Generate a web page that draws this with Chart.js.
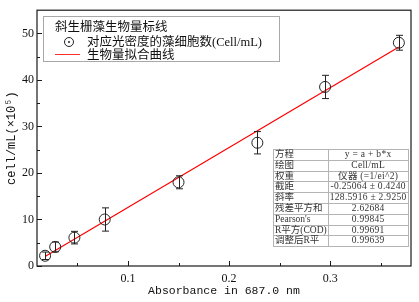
<!DOCTYPE html>
<html><head><meta charset="utf-8">
<script src="https://cdn.jsdelivr.net/npm/chart.js@4/dist/chart.umd.min.js"></script>
<style>
html,body{margin:0;padding:0;background:#fff;}
#wrap{position:relative;width:419px;height:302px;overflow:hidden;}
canvas{display:block;}
#legend{position:absolute;left:43px;top:16px;width:235px;height:44px;border:1px solid #a8a8a8;background:#fff;font-family:"Noto Sans CJK SC",sans-serif;font-size:12.5px;color:#111;}
#legend .row{position:absolute;left:0;white-space:nowrap;line-height:14px;height:14px;}
#legend .lat{font-family:"Liberation Serif",serif;}
#legend .sym{position:absolute;left:19.5px;top:20px;width:8px;height:8px;border:1px solid #222;border-radius:50%;}
#legend .sym:after{content:"";position:absolute;left:3px;top:3px;width:2px;height:2px;background:#222;border-radius:50%;}
#legend .ln{position:absolute;left:11px;top:36.5px;width:25px;height:1.5px;background:#ff3030;}
#tbl{position:absolute;left:273px;top:149px;border-collapse:collapse;background:#fff;font-family:"Liberation Serif","Noto Sans CJK SC",serif;font-size:9.5px;color:#333;}
#tbl td{border:1px solid #b4b4b4;height:9.8px;line-height:9.8px;padding:0 1px;white-space:nowrap;}
#tbl td.k{width:44px;text-align:left;}
#tbl td.v{width:76px;text-align:center;letter-spacing:0.3px;}
</style>
</head><body>
<div id="wrap">
<canvas id="c" width="419" height="302"></canvas>
<div id="legend"></div>
<table id="tbl"></table>
</div>
<script>
// ---- data ----
const absorbance = [0.018, 0.028, 0.047, 0.077, 0.150, 0.228, 0.295, 0.368];
const cellCount  = [2.2, 4.1, 6.1, 10.0, 18.0, 26.5, 38.5, 48.0];
const cellError  = [0.8, 1.05, 1.35, 2.5, 1.4, 2.4, 2.5, 1.6];
const fitIntercept = -0.25064;
const fitSlope = 128.5916;
const xMajorTicks = [0.1, 0.2, 0.3];
const xMinorTicks = [0.05, 0.15, 0.25, 0.35];
const yMajorTicks = [0, 10, 20, 30, 40, 50];
const yMinorTicks = [5, 15, 25, 35, 45];
const legendTitle = "斜生栅藻生物量标线";
const seriesName = "对应光密度的藻细胞数";
const seriesUnit = "(Cell/mL)";
const fitName = "生物量拟合曲线";
const xTitle = "Absorbance in 687.0 nm";
const yTitle = "cell/mL(×10⁵)";
const tableKeys = ["方程", "绘图", "权重", "截距", "斜率", "残差平方和", "Pearson's", "R平方(COD)", "调整后R平"];
const tableVals = ["y = a + b*x", "Cell/mL", "仪器 (=1/ei^2)", "-0.25064 ± 0.4240", "128.5916 ± 2.9250", "2.62684", "0.99845", "0.99691", "0.99639"];

// ---- legend & table (HTML text) ----
const lg = document.getElementById('legend');
lg.innerHTML =
  '<div class="row" style="left:11px;top:2px">' + legendTitle + '</div>' +
  '<div class="sym"></div>' +
  '<div class="row" style="left:43px;top:17px">' + seriesName + '<span class="lat">' + seriesUnit + '</span></div>' +
  '<div class="ln"></div>' +
  '<div class="row" style="left:43px;top:30px">' + fitName + '</div>';
const tb = document.getElementById('tbl');
tb.innerHTML = tableKeys.map((k, i) => '<tr><td class="k">' + k + '</td><td class="v">' + tableVals[i] + '</td></tr>').join('');

// ---- chart ----
const pts = absorbance.map((x, i) => ({x: x, y: cellCount[i]}));
const xLo = Math.min(...absorbance), xHi = Math.max(...absorbance);
const fitPts = [xLo, xHi].map(x => ({x: x, y: fitIntercept + fitSlope * x}));
const near = (a, b) => Math.abs(a - b) < 1e-9;

const decor = {
  id: 'decor',
  afterDatasetsDraw(chart) {
    const ctx = chart.ctx, xs = chart.scales.x, ys = chart.scales.y, ca = chart.chartArea;
    ctx.save();
    // error bars
    ctx.strokeStyle = '#222'; ctx.lineWidth = 1;
    absorbance.forEach((a, i) => {
      const px = Math.round(xs.getPixelForValue(a)) + 0.5;
      const t = ys.getPixelForValue(cellCount[i] + cellError[i]);
      const b = ys.getPixelForValue(cellCount[i] - cellError[i]);
      ctx.beginPath();
      ctx.moveTo(px, t); ctx.lineTo(px, b);
      ctx.moveTo(px - 3.5, t); ctx.lineTo(px + 3.5, t);
      ctx.moveTo(px - 3.5, b); ctx.lineTo(px + 3.5, b);
      ctx.stroke();
    });
    // frame
    ctx.strokeStyle = '#1a1a1a'; ctx.lineWidth = 1.2;
    ctx.strokeRect(ca.left, ca.top, ca.right - ca.left, ca.bottom - ca.top);
    // inward ticks
    ctx.lineWidth = 1;
    ctx.beginPath();
    xs.ticks.forEach(t => {
      const px = Math.round(xs.getPixelForValue(t.value)) + 0.5;
      const len = xMajorTicks.some(m => near(m, t.value)) ? 5 : 3;
      ctx.moveTo(px, ca.bottom); ctx.lineTo(px, ca.bottom - len);
    });
    ys.ticks.forEach(t => {
      const py = Math.round(ys.getPixelForValue(t.value)) + 0.5;
      const len = yMajorTicks.some(m => near(m, t.value)) ? 5 : 3;
      ctx.moveTo(ca.left, py); ctx.lineTo(ca.left + len, py);
    });
    ctx.stroke();
    ctx.restore();
  }
};

new Chart(document.getElementById('c'), {
  type: 'scatter',
  data: {
    datasets: [
      {label: seriesName, data: pts, pointStyle: 'circle', pointRadius: 5.5, pointHoverRadius: 5.5,
       pointBorderWidth: 1, borderColor: '#222', backgroundColor: 'rgba(0,0,0,0)', showLine: false},
      {label: fitName, type: 'line', data: fitPts, borderColor: '#ff0000', borderWidth: 1.2,
       pointRadius: 0, fill: false}
    ]
  },
  options: {
    responsive: false, animation: false, devicePixelRatio: 1, events: [],
    layout: {padding: {top: 6, right: 8, left: 0, bottom: 0}},
    plugins: {legend: {display: false}, tooltip: {enabled: false}},
    scales: {
      x: {
        type: 'linear', min: 0.01, max: 0.38,
        grid: {display: false, drawTicks: false}, border: {display: false},
        afterBuildTicks: s => { s.ticks = [...xMajorTicks, ...xMinorTicks].sort((a, b) => a - b).map(v => ({value: v})); },
        afterFit: s => { s.height = 36; },
        ticks: {autoSkip: false, maxRotation: 0, padding: 6, color: '#111',
                font: {family: 'Liberation Serif', size: 12},
                callback: v => { const m = xMajorTicks.find(t => near(t, v)); return m === undefined ? '' : String(m); }},
        title: {display: true, text: xTitle, color: '#111', padding: {top: 0, bottom: 4},
                font: {family: 'Liberation Mono', size: 11.5}}
      },
      y: {
        type: 'linear', min: 0, max: 55,
        grid: {display: false, drawTicks: false}, border: {display: false},
        afterBuildTicks: s => { s.ticks = [...yMajorTicks, ...yMinorTicks].sort((a, b) => a - b).map(v => ({value: v})); },
        afterFit: s => { s.width = 37; },
        ticks: {autoSkip: false, padding: 3, color: '#111',
                font: {family: 'Liberation Serif', size: 12},
                callback: v => { const m = yMajorTicks.find(t => near(t, v)); return m === undefined ? '' : String(m); }},
        title: {display: true, text: yTitle, color: '#111', padding: {top: 5, bottom: 0},
                font: {family: 'Liberation Mono', size: 12}}
      }
    }
  },
  plugins: [decor]
});
</script>
</body></html>
